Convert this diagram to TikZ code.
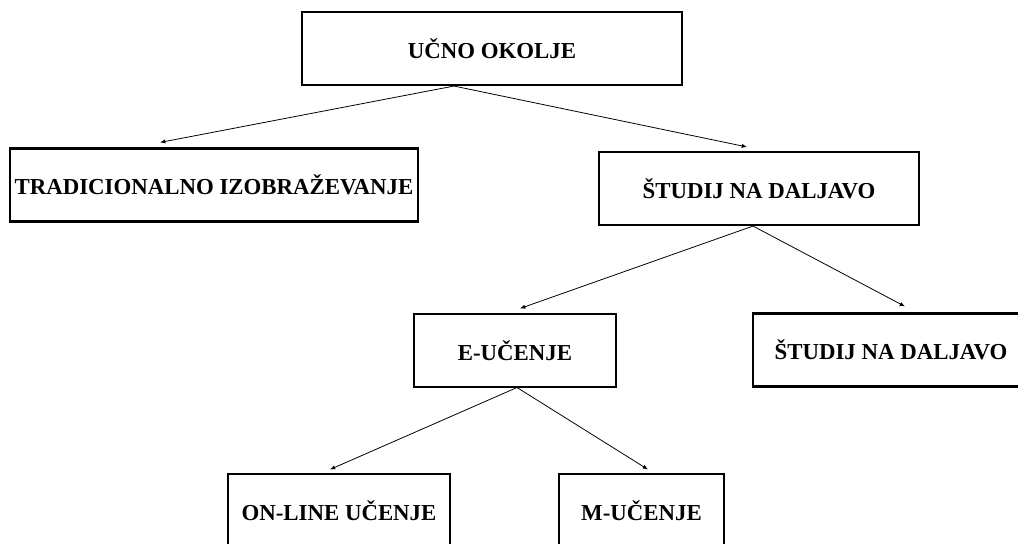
\documentclass[tikz,border=0pt]{standalone}
\usepackage{fontspec}
\setmainfont{Liberation Serif}
\usepackage{xcolor}
\usetikzlibrary{arrows.meta,positioning,calc}
\definecolor{ink}{HTML}{000000}

\begin{document}
\begin{tikzpicture}[x=0.02cm,y=-0.02cm]
    \tikzset{
      box/.style={draw=ink,line width=1.2pt,fill=white,inner sep=0pt,minimum height=1.46cm,align=center,font=\fontsize{13}{15}\selectfont\bfseries},
      thinbox/.style={box,line width=0.6pt},
      arrow/.style={-{Latex[length=3pt,width=2.4pt]},draw=ink,line width=0.45pt}
    }
    \useasboundingbox (0,0) rectangle (1018,544);
    \clip (0,0) rectangle (1018,544);
    \node[box,minimum width=7.6cm] (okolje) at (492,48.5) {UČNO OKOLJE};
    \node[box,minimum width=8.16cm] (trad) at (214,185) {TRADICIONALNO IZOBRAŽEVANJE};
    \node[box,minimum width=6.4cm] (studij) at (759,188.5) {ŠTUDIJ NA DALJAVO};
    \node[thinbox,minimum width=4.04cm] (eucenje) at (515,350.5) {E-UČENJE};
    \node[box,minimum width=5.52cm] (daljavo) at (891,350) {ŠTUDIJ NA DALJAVO};
    \node[thinbox,minimum width=4.44cm] (online) at (339,510.5) {ON-LINE UČENJE};
    \node[thinbox,minimum width=3.3cm] (mucenje) at (641.5,510.5) {M-UČENJE};
    \draw[arrow] ($(okolje.south)+(-38,0)$) -- ($(trad.north)+(-54,-5)$);
    \draw[arrow] ($(okolje.south)+(-38,0)$) -- ($(studij.north)+(-12,-4)$);
    \draw[arrow] ($(studij.south)+(-6,0)$) -- ($(eucenje.north)+(5,-5)$);
    \draw[arrow] ($(studij.south)+(-6,0)$) -- ($(daljavo.north)+(14,-6)$);
    \draw[arrow] ($(eucenje.south)+(2,0)$) -- ($(online.north)+(-9,-4)$);
    \draw[arrow] ($(eucenje.south)+(2,0)$) -- ($(mucenje.north)+(6.5,-4)$);
  \end{tikzpicture}
\end{document}
